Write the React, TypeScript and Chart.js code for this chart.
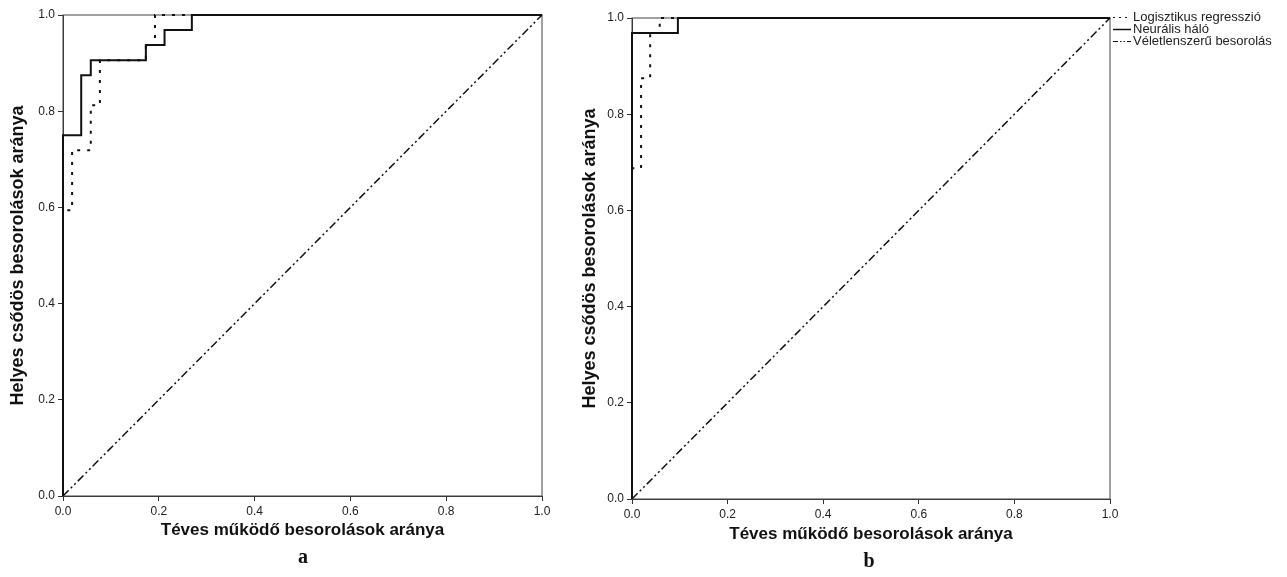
import React, { useEffect, useRef } from "react";
import { Chart, registerables } from "chart.js";

Chart.register(...registerables);

// ---- text ----
const xTitle = "Téves működő besorolások aránya";
const yTitle = "Helyes csődös besorolások aránya";
const seriesNames = ["Logisztikus regresszió", "Neurális háló", "Véletlenszerű besorolás"];
const captions = ["a", "b"];
const tickValues = [0, 0.2, 0.4, 0.6, 0.8, 1.0];

// ---- chart a (ROC step vertices, horizontal-then-vertical steps) ----
const aLogFpr = [0, 0, 0.019, 0.058, 0.077, 0.173, 0.192, 1];
const aLogTpr = [0, 0.594, 0.719, 0.8125, 0.906, 0.9375, 1, 1];
const aNeuFpr = [0, 0, 0.038, 0.058, 0.173, 0.212, 0.269, 1];
const aNeuTpr = [0, 0.75, 0.875, 0.906, 0.9375, 0.969, 1, 1];

// ---- chart b ----
const bLogFpr = [0, 0, 0.019, 0.038, 0.058, 1];
const bLogTpr = [0, 0.6875, 0.875, 0.969, 1, 1];
const bNeuFpr = [0, 0, 0.096, 1];
const bNeuTpr = [0, 0.969, 1, 1];

// ---- reference diagonal ----
const diagFpr = [0, 1];
const diagTpr = [0, 1];

const FONT = '"Liberation Sans", Arial, sans-serif';
const dashLog = [3, 7];
const dashDiag = [8, 3, 2, 3, 2, 3];

const pts = (xs: number[], ys: number[]) => xs.map((x, i) => ({ x, y: ys[i] }));

function makeDatasets(logX: number[], logY: number[], neuX: number[], neuY: number[]) {
  return [
    {
      label: seriesNames[0],
      data: pts(logX, logY),
      borderColor: "#111",
      borderWidth: 2,
      borderDash: dashLog,
      stepped: "before" as const,
      pointRadius: 0,
      clip: 4,
    },
    {
      label: seriesNames[1],
      data: pts(neuX, neuY),
      borderColor: "#111",
      borderWidth: 2,
      stepped: "before" as const,
      pointRadius: 0,
      clip: 4,
    },
    {
      label: seriesNames[2],
      data: pts(diagFpr, diagTpr),
      borderColor: "#111",
      borderWidth: 1.5,
      borderDash: dashDiag,
      pointRadius: 0,
      clip: 4,
    },
  ];
}

const framePlugin = {
  id: "frame",
  beforeDatasetsDraw(chart: any) {
    const { ctx, chartArea } = chart;
    ctx.save();
    ctx.strokeStyle = "#444";
    ctx.lineWidth = 1;
    ctx.strokeRect(chartArea.left, chartArea.top, chartArea.right - chartArea.left, chartArea.bottom - chartArea.top);
    ctx.restore();
  },
};

function makeLegendPlugin(x0: number, y0: number, step: number) {
  return {
    id: "customLegend",
    afterDraw(chart: any) {
      const { ctx } = chart;
      ctx.save();
      const dashes = [[2, 4], [], [5, 2, 1.5, 2, 1.5, 2]];
      seriesNames.forEach((name, i) => {
        const y = y0 + i * step;
        ctx.strokeStyle = "#111";
        ctx.lineWidth = i === 1 ? 1.5 : 1.2;
        ctx.setLineDash(dashes[i]);
        ctx.beginPath();
        ctx.moveTo(x0, y + 0.5);
        ctx.lineTo(x0 + 18, y + 0.5);
        ctx.stroke();
        ctx.setLineDash([]);
        ctx.fillStyle = "#222";
        ctx.font = `13px ${FONT}`;
        ctx.textBaseline = "middle";
        ctx.textAlign = "left";
        ctx.fillText(name, x0 + 20, y);
      });
      ctx.restore();
    },
  };
}

type Cfg = {
  logX: number[]; logY: number[]; neuX: number[]; neuY: number[];
  yWidth: number; xHeight: number; padTop: number; padRight: number;
  yTitlePad: number; xTitlePad: number; legend?: boolean;
};

function RocChart(props: { cfg: Cfg; width: number; height: number }) {
  const ref = useRef<HTMLCanvasElement>(null);
  const { cfg, width, height } = props;
  useEffect(() => {
    if (!ref.current) return;
    const plugins: any[] = [framePlugin];
    if (cfg.legend) plugins.push(makeLegendPlugin(width - cfg.padRight + 3, 17, 12));
    const chart = new Chart(ref.current, {
      type: "line",
      data: { datasets: makeDatasets(cfg.logX, cfg.logY, cfg.neuX, cfg.neuY) as any },
      options: {
        responsive: false,
        animation: false,
        maintainAspectRatio: false,
        layout: { padding: { left: 0, top: cfg.padTop, right: cfg.padRight, bottom: 0 } },
        plugins: { legend: { display: false }, tooltip: { enabled: false } },
        scales: {
          x: {
            type: "linear",
            min: 0,
            max: 1,
            afterBuildTicks: (s: any) => { s.ticks = tickValues.map((v) => ({ value: v })); },
            afterFit: (s: any) => { s.height = cfg.xHeight; },
            ticks: {
              color: "#222",
              font: { family: FONT, size: 12 },
              padding: 3,
              maxRotation: 0,
              callback: (v: any) => Number(v).toFixed(1),
            },
            grid: { display: true, drawOnChartArea: false, drawTicks: true, tickLength: 5, color: "#333" },
            border: { display: true, color: "#333", width: 1 },
            title: {
              display: true,
              text: xTitle,
              color: "#111",
              font: { family: FONT, size: 17, weight: "bold" },
              padding: { top: 0, bottom: cfg.xTitlePad },
            },
          },
          y: {
            type: "linear",
            min: 0,
            max: 1,
            afterBuildTicks: (s: any) => { s.ticks = tickValues.map((v) => ({ value: v })); },
            afterFit: (s: any) => { s.width = cfg.yWidth; },
            ticks: {
              color: "#222",
              font: { family: FONT, size: 12 },
              padding: 3,
              callback: (v: any) => Number(v).toFixed(1),
            },
            grid: { display: true, drawOnChartArea: false, drawTicks: true, tickLength: 5, color: "#333" },
            border: { display: true, color: "#333", width: 1 },
            title: {
              display: true,
              text: yTitle,
              color: "#111",
              font: { family: FONT, size: 18, weight: "bold" },
              padding: { top: cfg.yTitlePad, bottom: 0 },
            },
          },
        },
      },
      plugins,
    });
    return () => chart.destroy();
  }, []);
  return <canvas ref={ref} width={width} height={height} style={{ display: "block", width, height }} />;
}

const cfgA: Cfg = {
  logX: aLogFpr, logY: aLogTpr, neuX: aNeuFpr, neuY: aNeuTpr,
  yWidth: 63, xHeight: 81, padTop: 15, padRight: 28, yTitlePad: 7, xTitlePad: 36,
};
const cfgB: Cfg = {
  logX: bLogFpr, logY: bLogTpr, neuX: bNeuFpr, neuY: bNeuTpr,
  yWidth: 62, xHeight: 78, padTop: 18, padRight: 177, yTitlePad: 9, xTitlePad: 32, legend: true,
};

export default function App() {
  const capStyle: React.CSSProperties = {
    position: "absolute",
    fontFamily: '"Liberation Serif", "Times New Roman", serif',
    fontWeight: "bold",
    fontSize: 20,
    lineHeight: "20px",
    color: "#111",
    transform: "translateX(-50%)",
  };
  return (
    <div style={{ position: "absolute", left: 0, top: 0, width: 1287, height: 577, background: "#fff", overflow: "hidden" }}>
      <div style={{ position: "absolute", left: 0, top: 0 }}>
        <RocChart cfg={cfgA} width={570} height={577} />
      </div>
      <div style={{ position: "absolute", left: 570, top: 0 }}>
        <RocChart cfg={cfgB} width={717} height={577} />
      </div>
      <div style={{ ...capStyle, left: 303, top: 546 }}>{captions[0]}</div>
      <div style={{ ...capStyle, left: 869, top: 550 }}>{captions[1]}</div>
    </div>
  );
}
